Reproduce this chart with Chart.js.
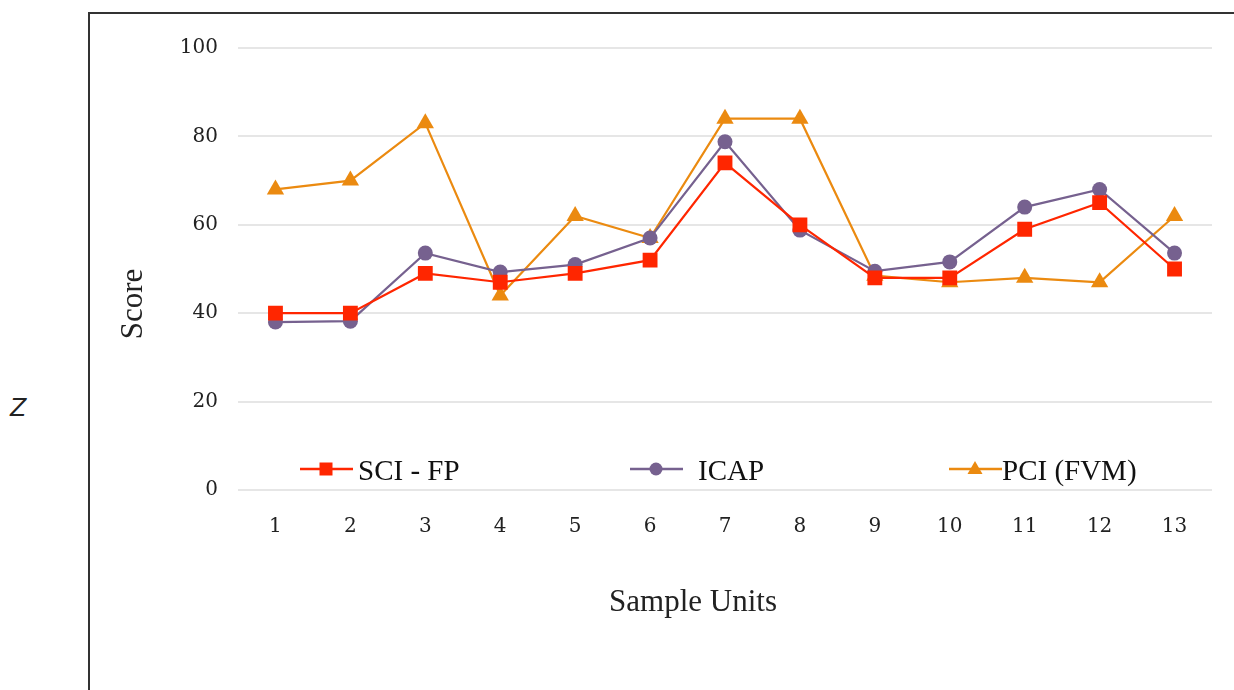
<!DOCTYPE html>
<html>
<head>
<meta charset="utf-8">
<script src="https://cdn.jsdelivr.net/npm/chart.js@4.4.1/dist/chart.umd.min.js"></script>
<style>
  html, body { margin:0; padding:0; background:#fff; }
  #wrap { position:relative; width:1234px; height:690px; overflow:hidden; }
  #frame { position:absolute; left:88px; top:12px; width:1160px; height:700px;
           border-left:2px solid #333; border-top:2px solid #333; }
  #z { position:absolute; left:10px; top:394px; font:italic 24px "DejaVu Sans", sans-serif; color:#222; }
  canvas { position:absolute; left:0; top:0; }
</style>
</head>
<body>
<div id="wrap">
  <div id="frame"></div>
  <div id="z">Z</div>
  <canvas id="c" width="1234" height="690"></canvas>
</div>
<script>
// data
const UNITS = ["1","2","3","4","5","6","7","8","9","10","11","12","13"];
const SCI_FP = [40, 40, 49, 47, 49, 52, 74, 60, 48, 48, 59, 65, 50];
const ICAP   = [38, 38.2, 53.6, 49.3, 51, 57, 78.8, 58.8, 49.5, 51.6, 64, 68, 53.6];
const PCI    = [68, 70, 83, 44, 62, 57, 84, 84, 48.5, 47, 48, 47, 62];
const Y_TICKS = [0, 20, 40, 60, 80, 100];

const RED = "#ff2600", PURPLE = "#76618f", ORANGE = "#eb8a10";
const SERIF = '"Liberation Serif", "DejaVu Serif", serif';
const TICKFONT = '"DejaVu Serif", serif';

// legend drawn inside the plot, line + marker like the original
const legendItems = [
  {label:"SCI - FP", color:RED, style:"rect", x:300, tx:358},
  {label:"ICAP", color:PURPLE, style:"circle", x:630, tx:698},
  {label:"PCI (FVM)", color:ORANGE, style:"triangle", x:949, tx:1002}
];

function marker(ctx, style, x, y, color){
  ctx.fillStyle = color;
  ctx.beginPath();
  if(style==="rect"){ ctx.rect(x-6.5, y-6.5, 13, 13); }
  else if(style==="circle"){ ctx.arc(x, y, 6.5, 0, Math.PI*2); }
  else { ctx.moveTo(x, y-8); ctx.lineTo(x+7.5, y+5); ctx.lineTo(x-7.5, y+5); ctx.closePath(); }
  ctx.fill();
}

const inlineLegend = {
  id: "inlineLegend",
  afterDatasetsDraw(chart){
    const ctx = chart.ctx;
    const y = 469;
    ctx.save();
    legendItems.forEach(it=>{
      ctx.strokeStyle = it.color; ctx.lineWidth = 2.5;
      ctx.beginPath(); ctx.moveTo(it.x, y); ctx.lineTo(it.x+53, y); ctx.stroke();
      marker(ctx, it.style, it.x+26, y, it.color);
      ctx.fillStyle = "#111";
      ctx.font = "29px " + SERIF;
      ctx.textBaseline = "middle";
      ctx.fillText(it.label, it.tx, y+3);
    });
    // axis titles, placed where the original has them (not centred on the plot)
    ctx.font = "31px " + SERIF;
    ctx.textAlign = "center";
    ctx.fillStyle = "#222";
    ctx.fillText("Sample Units", 693, 603);
    ctx.translate(134, 304);
    ctx.rotate(-Math.PI/2);
    ctx.fillText("Score", 0, 0);
    ctx.restore();
  }
};

const ds = (label, data, color, style, r) => ({
  label, data,
  borderColor: color, backgroundColor: color,
  borderWidth: 2.2,
  pointStyle: style, pointRadius: r, pointHoverRadius: r,
  pointBorderWidth: 0,
  tension: 0
});

new Chart(document.getElementById("c"), {
  type: "line",
  data: {
    labels: UNITS,
    datasets: [
      ds("SCI - FP", SCI_FP, RED, "rect", 10.5),
      ds("ICAP", ICAP, PURPLE, "circle", 7.5),
      ds("PCI (FVM)", PCI, ORANGE, "triangle", 10)
    ]
  },
  options: {
    responsive: false,
    animation: false,
    layout: { padding: { left: 150, right: 22, top: 48, bottom: 0 } },
    plugins: { legend: { display:false }, tooltip: { enabled:false } },
    scales: {
      x: {
        offset: true,
        grid: { display:false },
        border: { display:false },
        ticks: { color:"#222", font:{ family:TICKFONT, size:20 }, padding: 17 },
        afterFit: s => { s.height = 200; }
      },
      y: {
        min: 0, max: 100,
        afterBuildTicks: s => { s.ticks = Y_TICKS.map(v=>({value:v})); },
        grid: { color:"#e6e6e6", lineWidth:2, drawTicks:false },
        border: { display:false },
        ticks: { color:"#222", font:{ family:TICKFONT, size:20 }, padding: 20 },
        afterFit: s => { s.width = 88; }
      }
    }
  },
  plugins: [inlineLegend]
});
</script>
</body>
</html>
